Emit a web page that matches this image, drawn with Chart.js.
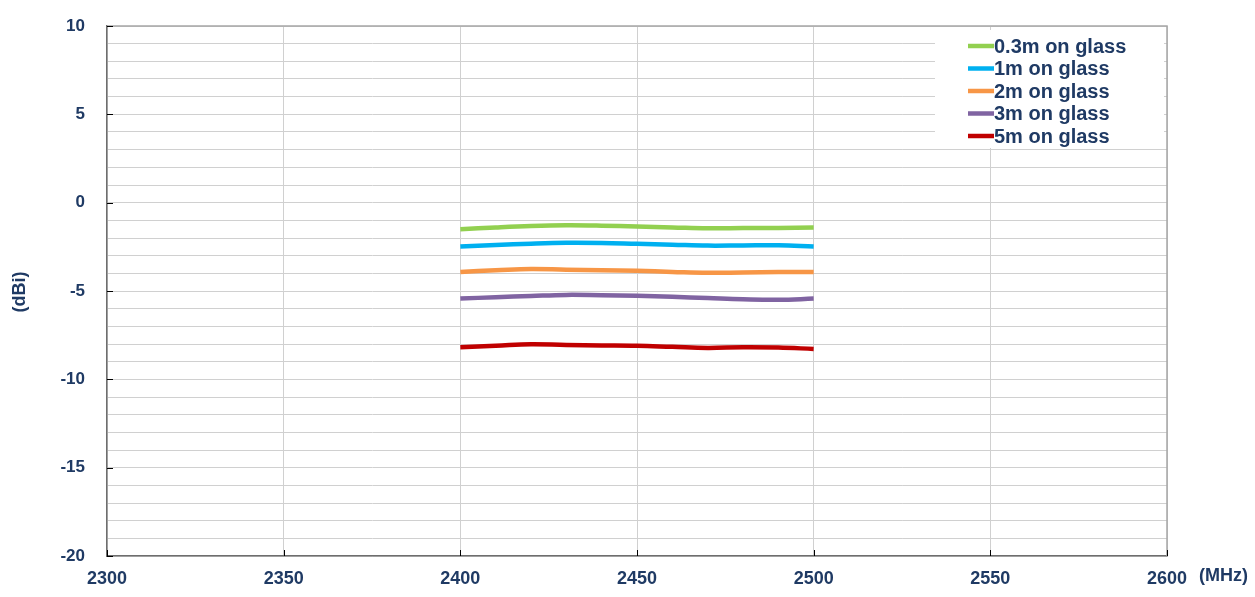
<!DOCTYPE html>
<html>
<head>
<meta charset="utf-8">
<script src="https://cdn.jsdelivr.net/npm/chart.js@4"></script>
<style>
  html, body { margin: 0; padding: 0; background: #fff; }
  #wrap { width: 1255px; height: 597px; position: relative; }
</style>
</head>
<body>
<div id="wrap"><canvas id="grafica"></canvas></div>
<script>
const FRECUENCIAS = [2400, 2410, 2420, 2430, 2440, 2450, 2460, 2470, 2480, 2490, 2500];
const NOMBRES = ['0.3m on glass', '1m on glass', '2m on glass', '3m on glass', '5m on glass'];
const G_03M = [-1.50, -1.40, -1.32, -1.28, -1.30, -1.35, -1.40, -1.45, -1.44, -1.43, -1.41];
const G_1M  = [-2.48, -2.40, -2.32, -2.27, -2.28, -2.33, -2.38, -2.43, -2.42, -2.41, -2.48];
const G_2M  = [-3.92, -3.83, -3.75, -3.80, -3.83, -3.86, -3.92, -3.97, -3.95, -3.93, -3.92];
const G_3M  = [-5.43, -5.35, -5.28, -5.22, -5.24, -5.27, -5.33, -5.40, -5.47, -5.50, -5.43];
const G_5M  = [-8.18, -8.10, -8.01, -8.06, -8.08, -8.10, -8.16, -8.22, -8.18, -8.20, -8.28];
const X_TICKS = [2300, 2350, 2400, 2450, 2500, 2550, 2600];
const Y_TICKS = [-20, -15, -10, -5, 0, 5, 10];

const COLORES = ['#92d050', '#00b0f0', '#f79646', '#8064a2', '#c00000'];
const SERIES = [G_03M, G_1M, G_2M, G_3M, G_5M];
const TEXTO = '#1f3a64';
const FAMILIA = '"Liberation Sans", Arial, sans-serif';

const datasets = SERIES.map((serie, i) => ({
    label: NOMBRES[i],
    data: serie.map((v, j) => ({ x: FRECUENCIAS[j], y: v })),
    borderColor: COLORES[i],
    backgroundColor: COLORES[i],
    borderWidth: 4.5,
    pointRadius: 0,
    tension: 0.4,
    fill: false
}));

// leyenda, titulos y marcas dibujados a mano
const extras = {
    id: 'extras',
    afterDraw(chart) {
        const ctx = chart.ctx;
        const a = chart.chartArea;
        const sy = chart.scales.y;
        const sx = chart.scales.x;
        ctx.save();
        // borde superior y derecho
        ctx.strokeStyle = '#a6a6a6';
        ctx.lineWidth = 1.5;
        ctx.beginPath();
        ctx.moveTo(a.left, a.top); ctx.lineTo(a.right, a.top); ctx.lineTo(a.right, a.bottom);
        ctx.stroke();
        // marcas cortas en los ejes
        ctx.strokeStyle = '#000';
        ctx.lineWidth = 1;
        Y_TICKS.forEach(v => {
            const y = Math.round(sy.getPixelForValue(v)) + 0.5;
            ctx.beginPath(); ctx.moveTo(a.left, y); ctx.lineTo(a.left + 6, y); ctx.stroke();
        });
        X_TICKS.forEach(v => {
            const x = Math.round(sx.getPixelForValue(v)) + 0.5;
            ctx.beginPath(); ctx.moveTo(x, a.bottom); ctx.lineTo(x, a.bottom - 6); ctx.stroke();
        });
        // leyenda con fondo blanco
        ctx.fillStyle = '#fff';
        ctx.fillRect(935, 30, 229, 118);
        ctx.font = 'bold 20px ' + FAMILIA;
        ctx.textBaseline = 'middle';
        ctx.textAlign = 'left';
        chart.data.datasets.forEach((ds, i) => {
            const y = 46 + i * 22.5;
            ctx.strokeStyle = ds.borderColor;
            ctx.lineWidth = 4.5;
            ctx.beginPath(); ctx.moveTo(968, y); ctx.lineTo(994, y); ctx.stroke();
            ctx.fillStyle = TEXTO;
            ctx.fillText(ds.label, 994, y + 1);
        });
        // titulos
        ctx.font = 'bold 18px ' + FAMILIA;
        ctx.fillStyle = TEXTO;
        ctx.fillText('(MHz)', 1199, 576);
        ctx.translate(20, 292);
        ctx.rotate(-Math.PI / 2);
        ctx.textAlign = 'center';
        ctx.fillText('(dBi)', 0, 0);
        ctx.restore();
    }
};

new Chart(document.getElementById('grafica'), {
    type: 'line',
    data: { datasets: datasets },
    plugins: [extras],
    options: {
        responsive: true,
        maintainAspectRatio: false,
        animation: false,
        layout: { padding: { top: 26, right: 88, left: 0, bottom: 0 } },
        plugins: { legend: { display: false }, tooltip: { enabled: false } },
        scales: {
            x: {
                type: 'linear',
                min: 2300,
                max: 2600,
                afterBuildTicks: s => { s.ticks = X_TICKS.map(v => ({ value: v })); },
                afterFit: s => { s.height = 41; s.paddingLeft = 0; s.paddingRight = 0; },
                ticks: {
                    color: TEXTO,
                    font: { family: FAMILIA, size: 18, weight: 'bold' },
                    padding: 12,
                    maxRotation: 0,
                    callback: v => String(v)
                },
                grid: { color: '#d0d0d0', drawTicks: false },
                border: { color: '#6e6e6e', width: 1.5 }
            },
            y: {
                min: -20,
                max: 10,
                ticks: {
                    stepSize: 1,
                    autoSkip: false,
                    color: TEXTO,
                    font: { family: FAMILIA, size: 17, weight: 'bold' },
                    padding: 22,
                    callback: v => (Y_TICKS.includes(v) ? v : '')
                },
                afterFit: s => { s.width = 107; s.paddingTop = 0; s.paddingBottom = 0; },
                grid: { color: '#d0d0d0', drawTicks: false },
                border: { color: '#6e6e6e', width: 1.5 }
            }
        }
    },
});
</script>
</body>
</html>
